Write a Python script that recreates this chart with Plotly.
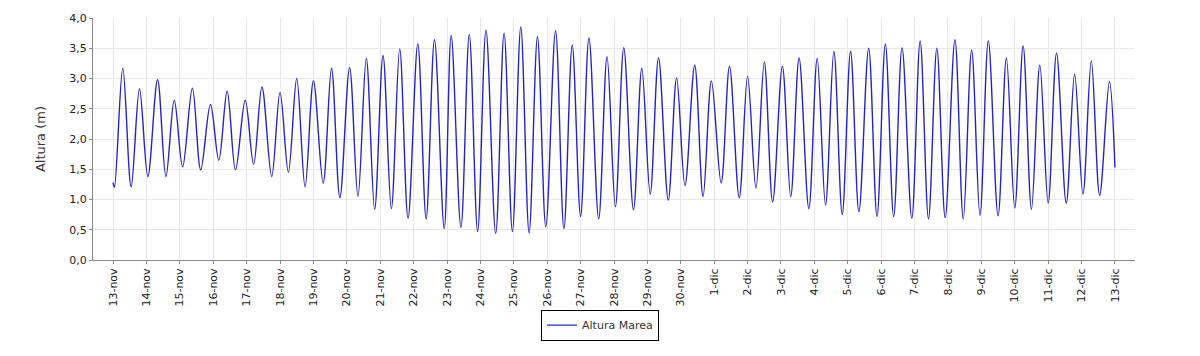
import pandas as pd
import plotly.graph_objects as go

# Tide extremes: hours since 13-nov 00:00 and heights (m)
hours = [0, 1, 7, 13, 19, 25, 32, 38, 44, 50, 57, 63, 70, 76, 82, 88, 95, 101, 107, 114,
         120, 126, 132, 138, 144, 151, 157, 163, 170, 176, 182, 188, 194, 200, 206, 212,
         219, 225, 231, 238, 243, 250, 256, 262, 268, 275, 281, 287, 293, 299, 305, 311,
         318, 324, 330, 336, 342, 349, 355, 361, 367, 374, 380, 386, 392, 399, 405, 411,
         418, 424, 430, 437, 443, 450, 456, 462, 468, 474, 481, 487, 493, 500, 506, 512,
         518, 524, 530, 536, 543, 549, 555, 561, 567, 574, 580, 586, 592, 598, 605, 611,
         617, 623, 629, 636, 642, 648, 654, 660, 666, 672, 678, 685, 691, 697, 703, 709,
         716, 720]
heights = [1.28, 1.20, 3.17, 1.21, 2.83, 1.38, 2.98, 1.38, 2.64, 1.54, 2.84, 1.49, 2.57, 1.65,
           2.79, 1.49, 2.64, 1.58, 2.86, 1.38, 2.77, 1.45, 3.00, 1.21, 2.96, 1.27, 3.17, 1.03,
           3.18, 1.05, 3.33, 0.84, 3.38, 0.85, 3.49, 0.69, 3.57, 0.68, 3.64, 0.52, 3.71, 0.54,
           3.73, 0.47, 3.80, 0.44, 3.75, 0.47, 3.85, 0.45, 3.69, 0.55, 3.79, 0.52, 3.55, 0.72,
           3.67, 0.68, 3.36, 0.88, 3.51, 0.83, 3.17, 1.09, 3.34, 0.99, 3.01, 1.23, 3.22, 1.05,
           2.96, 1.27, 3.20, 1.03, 3.04, 1.19, 3.27, 0.96, 3.20, 1.05, 3.34, 0.85, 3.33, 0.91,
           3.45, 0.75, 3.45, 0.80, 3.50, 0.72, 3.57, 0.72, 3.51, 0.69, 3.62, 0.68, 3.50, 0.70,
           3.64, 0.68, 3.47, 0.74, 3.62, 0.73, 3.34, 0.86, 3.54, 0.84, 3.22, 0.94, 3.42, 0.94,
           3.07, 1.09, 3.29, 1.07, 2.95, 1.53]

tick_labels = ["13-nov", "14-nov", "15-nov", "16-nov", "17-nov", "18-nov", "19-nov", "20-nov",
               "21-nov", "22-nov", "23-nov", "24-nov", "25-nov", "26-nov", "27-nov", "28-nov",
               "29-nov", "30-nov", "1-dic", "2-dic", "3-dic", "4-dic", "5-dic", "6-dic",
               "7-dic", "8-dic", "9-dic", "10-dic", "11-dic", "12-dic", "13-dic"]

start = pd.Timestamp("2023-11-13 00:00")
x = start + pd.to_timedelta(hours, unit="h")
tick_vals = [start + pd.Timedelta(days=i) for i in range(len(tick_labels))]

fig = go.Figure()
fig.add_trace(go.Scatter(
    x=x, y=heights, mode="lines", name="Altura Marea",
    line=dict(color="#2424c4", width=1.4, shape="spline", smoothing=1.0),
))

grid = "#e8e8e8"
fig.update_layout(
    width=1200, height=356,
    margin=dict(l=93, r=65, t=18, b=96, autoexpand=False),
    paper_bgcolor="white", plot_bgcolor="white",
    separators=",.",
    font=dict(family="DejaVu Sans", size=11, color="#444444"),
    showlegend=True,
    legend=dict(x=0.4866, y=-0.205, xanchor="center", yanchor="top",
                orientation="h", bordercolor="#000000", borderwidth=1,
                bgcolor="white", font=dict(size=11, color="#333333"),
                itemwidth=30, tracegroupgap=0),
    xaxis=dict(
        range=[start - pd.Timedelta(hours=14.4), start + pd.Timedelta(hours=734.4)],
        tickvals=tick_vals, ticktext=tick_labels, tickangle=-90,
        showgrid=True, gridcolor=grid, gridwidth=1,
        showline=True, linecolor="#888888", linewidth=1,
        ticks="outside", ticklen=3, tickcolor="#888888",
        zeroline=False, automargin=False, tickfont=dict(size=11, color="#222222"),
    ),
    yaxis=dict(
        range=[0, 4], dtick=0.5, tick0=0, tickformat=".1f",
        showgrid=True, gridcolor=grid, gridwidth=1,
        showline=True, linecolor="#888888", linewidth=1,
        ticks="outside", ticklen=3, tickcolor="#888888",
        zeroline=False, automargin=False, tickfont=dict(size=11, color="#222222"),
        title=dict(text="Altura (m)", font=dict(size=13, color="#333333"), standoff=20),
    ),
)

fig.write_html("out.html", config={"displayModeBar": False},
               post_script="document.body.style.margin='0';")
